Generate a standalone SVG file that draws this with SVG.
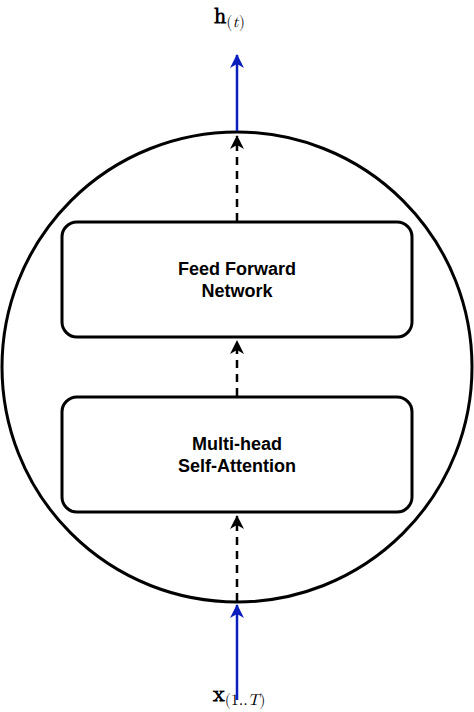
<svg xmlns="http://www.w3.org/2000/svg" width="474" height="712" viewBox="0 0 474 712">
<style>
.box{fill:#fff;stroke:#000;stroke-width:3}
.lbl{font-family:"Liberation Sans",Arial,sans-serif;font-weight:bold;font-size:18px;text-anchor:middle;fill:#000}
.dash{stroke:#000;stroke-width:2.5;stroke-dasharray:8 6;fill:none}
.blue{stroke:#0A1EBE;stroke-width:2.5;fill:none}
.math{font-family:"Latin Modern Math","DejaVu Serif","Liberation Serif",serif;fill:#000}
</style>
<defs>
<marker id="ab" viewBox="0 0 14 16" refX="13" refY="8" markerWidth="14" markerHeight="16" markerUnits="userSpaceOnUse" orient="auto">
<path d="M0,1 L14,8 L0,15 L4,8 Z" fill="#000"/>
</marker>
<marker id="au" viewBox="0 0 14 16" refX="13" refY="8" markerWidth="14" markerHeight="16" markerUnits="userSpaceOnUse" orient="auto">
<path d="M0,1 L14,8 L0,15 L4,8 Z" fill="#0A1EBE"/>
</marker>
</defs>
<g id="outer"><circle cx="237" cy="367" r="235" fill="#fff" stroke="#000" stroke-width="3"/></g>
<g id="connectors">
<path class="dash" d="M237,601 V516" marker-end="url(#ab)"/>
<path class="dash" d="M237,396 V341" marker-end="url(#ab)"/>
<path class="dash" d="M237,221 V136" marker-end="url(#ab)"/>
<path class="blue" d="M237,700 V605" marker-end="url(#au)"/>
<path class="blue" d="M237,131 V55" marker-end="url(#au)"/>
</g>
<g id="ffn">
<rect class="box" x="62" y="222" width="350" height="115" rx="15"/>
<text class="lbl" x="237" y="275">Feed Forward</text>
<text class="lbl" x="237" y="297">Network</text>
</g>
<g id="mhsa">
<rect class="box" x="62" y="397" width="350" height="115" rx="15"/>
<text class="lbl" x="237" y="450">Multi-head</text>
<text class="lbl" x="237" y="472">Self-Attention</text>
</g>
<g id="out-label"><text class="math" x="214" y="23" font-size="22"><tspan font-weight="bold">h</tspan><tspan font-size="16" dy="4">(<tspan font-style="italic">t</tspan>)</tspan></text></g>
<g id="in-label"><text class="math" x="213" y="701" font-size="22"><tspan font-weight="bold">x</tspan><tspan font-size="16" dy="4">(1..<tspan font-style="italic">T</tspan>)</tspan></text></g>
</svg>
